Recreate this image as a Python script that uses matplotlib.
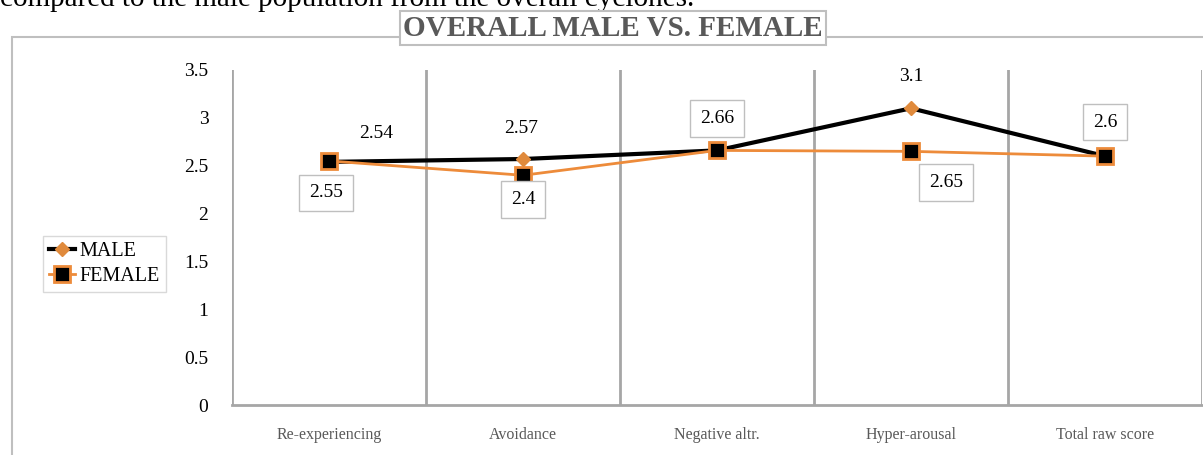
import matplotlib
matplotlib.use('Agg')
from matplotlib import pyplot as plt
from matplotlib.patches import Rectangle

categories = ['Re-experiencing', 'Avoidance', 'Negative altr.', 'Hyper-arousal', 'Total raw score']
male = [2.54, 2.57, 2.66, 3.1, 2.6]
female = [2.55, 2.4, 2.66, 2.65, 2.6]
y_ticks = [0, 0.5, 1, 1.5, 2, 2.5, 3, 3.5]
y_tick_labels = ['0', '0.5', '1', '1.5', '2', '2.5', '3', '3.5']

# label offsets in pixels (None = label not shown)
male_offsets = [(47, 28), (-2, 31), None, (0, 32), None]
female_offsets = [(-3, -32), (0, -24), (0, 32), (35, -31), (0, 34)]

plt.rcParams['font.family'] = ['Liberation Serif', 'DejaVu Serif']

fig = plt.figure(figsize=(12.03, 4.55), dpi=100)
W, H = 1203, 455

# outer chart frame
fig.patches.append(Rectangle((12 / W, -0.1), 1.2, 1 - 37 / H + 0.1, transform=fig.transFigure,
                             fill=False, edgecolor='#bfbfbf', linewidth=1.5))

# text of the document cut at top
fig.text(0, 1 - 6 / H, 'compared to the male population from the overall cyclones.',
         fontsize=21, va='baseline', ha='left', color='black')

ax = fig.add_axes([232 / W, 1 - 405 / H, 970 / W, 335 / H])
x = list(range(len(categories)))

for xv in [i - 0.5 for i in range(len(categories) + 1)]:
    ax.axvline(xv, color='#a6a6a6', linewidth=2, zorder=1)

ax.plot(x, male, color='black', linewidth=3, marker='D', markersize=7,
        markerfacecolor='#e08a3c', markeredgecolor='#e08a3c', label='MALE', zorder=3)
ax.plot(x, female, color='#ed8b3a', linewidth=2, marker='s', markersize=11,
        markerfacecolor='black', markeredgecolor='#ed8b3a', markeredgewidth=2,
        label='FEMALE', zorder=4)

for i, off in enumerate(male_offsets):
    if off is None:
        continue
    ax.annotate(str(male[i]), (i, male[i]), xytext=off, textcoords='offset pixels',
                ha='center', va='center', fontsize=14, color='black')
for i, off in enumerate(female_offsets):
    ax.annotate(str(female[i]), (i, female[i]), xytext=off, textcoords='offset pixels',
                ha='center', va='center', fontsize=14, color='black', zorder=5,
                bbox=dict(boxstyle='square,pad=0.5', facecolor='white',
                          edgecolor='#bfbfbf', linewidth=1))

ax.set_xlim(-0.5, len(categories) - 0.5)
ax.set_ylim(0, 3.5)
ax.set_yticks(y_ticks)
ax.set_yticklabels(y_tick_labels, fontsize=14)
ax.set_xticks(x)
ax.set_xticklabels(categories, fontsize=11.5, color='#595959')
ax.tick_params(axis='y', length=0, pad=17)
ax.tick_params(axis='x', length=0, pad=16)
for s in ['top', 'right', 'left']:
    ax.spines[s].set_visible(False)
ax.spines['bottom'].set_color('#a6a6a6')
ax.spines['bottom'].set_linewidth(2)

fig.text(613 / W, 1 - 28 / H, 'OVERALL MALE VS. FEMALE', ha='center', va='center',
         fontsize=21, fontweight='bold', color='#595959',
         bbox=dict(boxstyle='square,pad=0.12', facecolor='white', edgecolor='#bfbfbf', linewidth=1.5))

leg = fig.legend(loc='upper left', bbox_to_anchor=(33 / W, 1 - 226 / H), fontsize=14.5,
                 handlelength=1.3, handletextpad=0.2, borderpad=0.3, labelspacing=0.3,
                 fancybox=False, edgecolor='#d9d9d9', framealpha=1)
leg.get_frame().set_linewidth(1)

fig.savefig('out.png', dpi=100)
